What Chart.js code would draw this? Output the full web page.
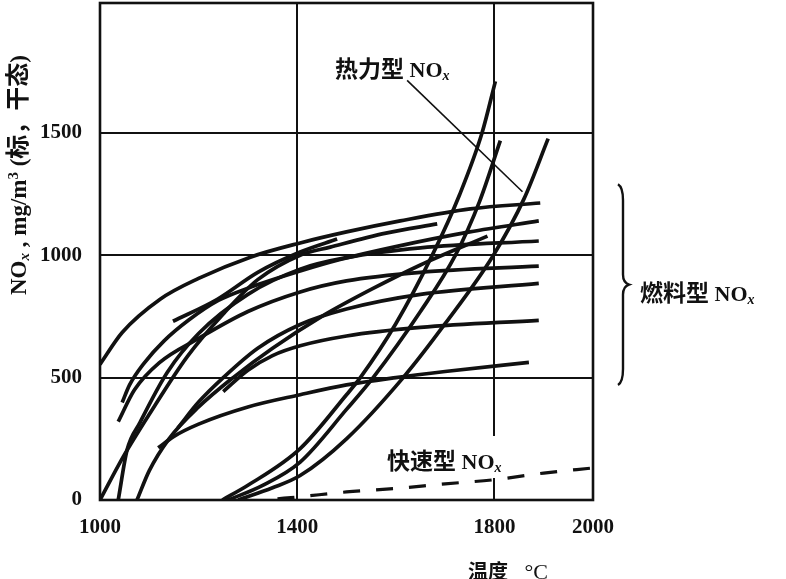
<!DOCTYPE html>
<html>
<head>
<meta charset="utf-8">
<script src="https://cdn.jsdelivr.net/npm/chart.js@4.4.1/dist/chart.umd.min.js"></script>
<style>
  html, body { margin: 0; padding: 0; background: #fff; }
  canvas { display: block; }
</style>
</head>
<body>
<canvas id="c" width="786" height="579"></canvas>
<script>
// ---- tick labels ----
const xTicks = [1000, 1400, 1800, 2000];
const yTicks = [0, 500, 1000, 1500];
const xMin = 1000, xMax = 2000, yMin = 0, yMax = 2030;

// ---- fuel NOx curves (temperature °C, NOx mg/m3) ----
const fuelA_T = [1000, 1045, 1122, 1200, 1305, 1406, 1500, 1609, 1751, 1893];
const fuelA_N = [554, 684, 820, 905, 992, 1050, 1095, 1140, 1189, 1213];
const fuelB_T = [1148, 1238, 1320, 1406, 1481];
const fuelB_N = [730, 820, 930, 1013, 1066];
const fuelC_T = [1045, 1060, 1090, 1130, 1180, 1240, 1300, 1406, 1487, 1600, 1750, 1890];
const fuelC_N = [398, 470, 560, 650, 735, 815, 865, 935, 982, 1035, 1095, 1140];
const fuelD_T = [1000, 1047, 1100, 1177, 1250, 1320, 1406, 1467, 1580, 1684];
const fuelD_N = [0, 176, 350, 586, 760, 900, 1000, 1033, 1090, 1128];
const fuelE_T = [1037, 1055, 1081, 1136, 1200, 1300, 1406, 1500, 1650, 1890];
const fuelE_N = [0, 205, 316, 520, 680, 840, 943, 990, 1030, 1058];
const fuelF_T = [1037, 1070, 1120, 1200, 1300, 1406, 1500, 1650, 1890];
const fuelF_N = [320, 450, 560, 660, 770, 850, 895, 930, 955];
const fuelG_T = [1158, 1200, 1250, 1320, 1406, 1500, 1650, 1890];
const fuelG_N = [295, 400, 500, 620, 717, 780, 840, 885];
const fuelH_T = [1075, 1100, 1140, 1200, 1270, 1350, 1450, 1550, 1650, 1786];
const fuelH_N = [0, 120, 250, 380, 500, 620, 750, 860, 960, 1078];
const fuelI_T = [1250, 1300, 1350, 1406, 1500, 1650, 1890];
const fuelI_N = [443, 530, 590, 630, 670, 705, 734];
const fuelJ_T = [1118, 1150, 1200, 1300, 1406, 1500, 1600, 1700, 1870];
const fuelJ_N = [213, 260, 310, 380, 430, 470, 500, 525, 562];

// ---- thermal NOx curves ----
const thermal1_T = [1248, 1300, 1406, 1500, 1528, 1600, 1674, 1730, 1775, 1802];
const thermal1_N = [0, 60, 210, 430, 500, 720, 1000, 1250, 1500, 1710];
const thermal2_T = [1260, 1330, 1406, 1500, 1554, 1650, 1721, 1770, 1812];
const thermal2_N = [0, 60, 155, 370, 500, 770, 1000, 1220, 1468];
const thermal3_T = [1280, 1350, 1406, 1500, 1615, 1700, 1798, 1860, 1909];
const thermal3_N = [0, 50, 100, 250, 500, 720, 1000, 1230, 1476];

// ---- prompt NOx (dashed) ----
const prompt_T = [1360, 1400, 1500, 1600, 1700, 1800, 1900, 2000];
const prompt_N = [5, 12, 33, 47, 66, 83, 110, 131];

// ---- leader line for the thermal NOx label (temperature, NOx) ----
const leader_T = [1623, 1857];
const leader_N = [1714, 1259];

// ---- brace range for the fuel NOx label (NOx) ----
const braceRange_N = [1290, 470];

const SERIF = "'Liberation Serif', 'DejaVu Serif', serif";
const CJK = "'Noto Sans CJK SC', 'Noto Sans CJK JP', sans-serif";
const INK = '#111';

function pts(T, N) { return T.map((t, i) => ({ x: t, y: N[i] })); }

const fuelSets = [
  [fuelA_T, fuelA_N], [fuelB_T, fuelB_N], [fuelC_T, fuelC_N], [fuelD_T, fuelD_N],
  [fuelE_T, fuelE_N], [fuelF_T, fuelF_N], [fuelG_T, fuelG_N], [fuelH_T, fuelH_N],
  [fuelI_T, fuelI_N], [fuelJ_T, fuelJ_N]
];
const thermalSets = [[thermal1_T, thermal1_N], [thermal2_T, thermal2_N], [thermal3_T, thermal3_N]];

const datasets = [];
fuelSets.forEach(([T, N], i) => datasets.push({
  label: '燃料型 NOx ' + (i + 1), data: pts(T, N), showLine: true, borderColor: INK,
  borderWidth: 3.7, pointRadius: 0, cubicInterpolationMode: 'monotone', fill: false
}));
thermalSets.forEach(([T, N], i) => datasets.push({
  label: '热力型 NOx ' + (i + 1), data: pts(T, N), showLine: true, borderColor: INK,
  borderWidth: 3.7, pointRadius: 0, cubicInterpolationMode: 'monotone', fill: false
}));
datasets.push({
  label: '快速型 NOx', data: pts(prompt_T, prompt_N), showLine: true, borderColor: INK,
  borderWidth: 3.2, borderDash: [17, 16], pointRadius: 0, cubicInterpolationMode: 'monotone', fill: false
});
datasets.push({
  label: 'leader', data: pts(leader_T, leader_N), showLine: true, borderColor: INK,
  borderWidth: 1.6, pointRadius: 0, fill: false
});

// draw a run of text segments with different fonts
function rich(ctx, x, y, segs, align) {
  let total = 0;
  segs.forEach(s => { ctx.font = s.f; s.w = ctx.measureText(s.t).width; total += s.w; });
  let cx = align === 'center' ? x - total / 2 : x;
  segs.forEach(s => {
    ctx.font = s.f;
    ctx.fillText(s.t, cx, y + (s.dy || 0));
    cx += s.w;
  });
}

const decor = {
  id: 'decor',
  afterDatasetsDraw(chart) {
    const { ctx, chartArea: a, scales: { x, y } } = chart;
    ctx.save();
    // gap in the 1800 grid line behind the prompt NOx label
    ctx.fillStyle = '#fff';
    const gx = x.getPixelForValue(1800);
    ctx.fillRect(gx - 4, 436, 8, 42);
    // frame
    ctx.strokeStyle = INK;
    ctx.lineWidth = 2.6;
    ctx.strokeRect(a.left, a.top, a.right - a.left, a.bottom - a.top);

    ctx.fillStyle = INK;
    ctx.textBaseline = 'alphabetic';
    ctx.textAlign = 'left';
    const big = 'bold 22px ' + SERIF;
    const sub = 'italic bold 14px ' + SERIF;
    const cj = 'bold 23px ' + CJK;

    // thermal label
    rich(ctx, 335, 77, [
      { t: '热力型', f: cj }, { t: ' NO', f: big }, { t: 'x', f: sub, dy: 3 }
    ], 'left');
    // prompt label
    rich(ctx, 387, 469, [
      { t: '快速型', f: cj }, { t: ' NO', f: big }, { t: 'x', f: sub, dy: 3 }
    ], 'left');
    // fuel label
    rich(ctx, 640, 301, [
      { t: '燃料型', f: cj }, { t: ' NO', f: big }, { t: 'x', f: sub, dy: 3 }
    ], 'left');

    // brace
    const bt = y.getPixelForValue(braceRange_N[0]);
    const bb = y.getPixelForValue(braceRange_N[1]);
    const bm = (bt + bb) / 2;
    const bx = 618, bw = 5;
    ctx.lineWidth = 2.4;
    ctx.beginPath();
    ctx.moveTo(bx, bt);
    ctx.quadraticCurveTo(bx + bw, bt + 3, bx + bw, bt + 16);
    ctx.lineTo(bx + bw, bm - 10);
    ctx.quadraticCurveTo(bx + bw, bm - 2, bx + bw + 6, bm);
    ctx.quadraticCurveTo(bx + bw, bm + 2, bx + bw, bm + 10);
    ctx.lineTo(bx + bw, bb - 16);
    ctx.quadraticCurveTo(bx + bw, bb - 3, bx, bb);
    ctx.stroke();

    // x-axis title
    rich(ctx, 468, 579, [
      { t: '温度', f: 'bold 20px ' + CJK }, { t: '   °C', f: '22px ' + SERIF }
    ], 'left');

    // y-axis title (rotated)
    const tb = 'bold 23px ' + SERIF;
    const tc = 'bold 24px ' + CJK;
    ctx.translate(18, 175);
    ctx.rotate(-Math.PI / 2);
    rich(ctx, 0, 8, [
      { t: 'NO', f: tb }, { t: 'x', f: 'italic bold 15px ' + SERIF, dy: 3 }, { t: ' , mg/m', f: tb },
      { t: '3', f: 'bold 15px ' + SERIF, dy: -8 }, { t: ' (', f: tb },
      { t: '标，', f: tc }, { t: '干态', f: tc }, { t: ')', f: tb }
    ], 'center');
    ctx.restore();
  }
};

new Chart(document.getElementById('c'), {
  type: 'scatter',
  data: { datasets },
  options: {
    responsive: false,
    animation: false,
    layout: { padding: { left: 0, right: 193, top: 3, bottom: 0 } },
    plugins: { legend: { display: false }, tooltip: { enabled: false } },
    scales: {
      x: {
        type: 'linear', min: xMin, max: xMax,
        afterBuildTicks: s => { s.ticks = xTicks.map(v => ({ value: v })); },
        afterFit: s => { s.height = 79; s.paddingLeft = 0; s.paddingRight = 0; },
        grid: { color: INK, lineWidth: 2, drawTicks: false },
        border: { display: false },
        ticks: { color: INK, padding: 15, maxRotation: 0, autoSkip: false,
          callback: v => String(v),
          font: { family: SERIF, size: 21, weight: 'bold' } }
      },
      y: {
        type: 'linear', min: yMin, max: yMax,
        afterBuildTicks: s => { s.ticks = yTicks.map(v => ({ value: v })); },
        afterFit: s => { s.width = 100; s.paddingTop = 0; s.paddingBottom = 0; },
        grid: { color: INK, lineWidth: 2, drawTicks: false },
        border: { display: false },
        ticks: { color: INK, padding: 18, autoSkip: false,
          callback: v => String(v),
          font: { family: SERIF, size: 21, weight: 'bold' } }
      }
    }
  },
  plugins: [decor]
});
</script>
</body>
</html>
